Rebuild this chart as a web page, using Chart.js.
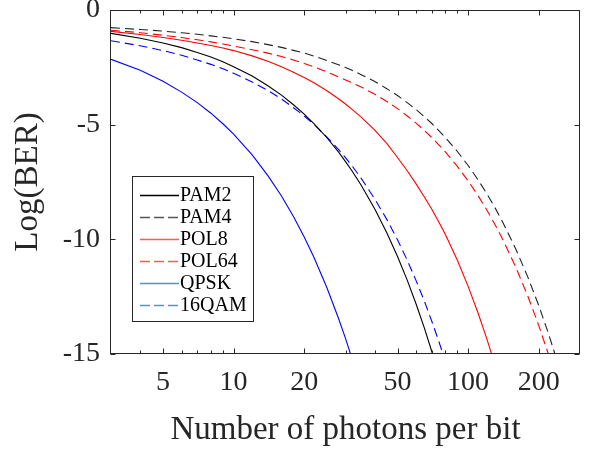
<!DOCTYPE html>
<html>
<head>
<meta charset="utf-8">
<script src="https://cdn.jsdelivr.net/npm/chart.js@4.4.1/dist/chart.umd.min.js"></script>
<style>
  html, body { margin: 0; padding: 0; background: #ffffff; }
  #wrap { width: 591px; height: 455px; }
</style>
</head>
<body>
<div id="wrap"><canvas id="berChart" width="591" height="455"></canvas></div>
<script>
// Photons per bit (shared x grid)
const photons = [3, 4, 5, 6, 7, 8, 9, 10, 12, 14, 16, 18, 20, 22, 25, 28, 30, 32, 35, 40,
    45, 50, 55, 60, 65, 70, 75, 80, 90, 100, 110, 120, 130, 140, 160, 180, 200, 220, 240];

// Log(BER), null once the curve has left the plot
const pam2 = [-1.02, -1.23, -1.44, -1.64, -1.85, -2.05, -2.26, -2.47, -2.88, -3.30, -3.71, -4.13, -4.54, -4.95, -5.57, -6.19, -6.61, -7.02, -7.64, -8.68,
    -9.71, -10.75, -11.78, -12.82, -13.85, -14.89, -15.92, null, null, null, null, null, null, null, null, null, null, null, null];
const pam4 = [-0.77, -0.85, -0.92, -0.99, -1.06, -1.13, -1.19, -1.26, -1.38, -1.51, -1.63, -1.76, -1.88, -2.01, -2.20, -2.39, -2.51, -2.63, -2.82, -3.12,
    -3.43, -3.73, -4.04, -4.34, -4.65, -4.95, -5.26, -5.56, -6.17, -6.78, -7.39, -8.00, -8.61, -9.22, -10.44, -11.66, -12.88, -14.10, -15.32];
const pol8 = [-0.93, -1.07, -1.20, -1.32, -1.44, -1.55, -1.66, -1.77, -2.00, -2.23, -2.47, -2.71, -2.94, -3.17, -3.52, -3.87, -4.10, -4.33, -4.67, -5.24,
    -5.82, -6.43, -7.01, -7.58, -8.14, -8.69, -9.24, -9.79, -10.91, -12.05, -13.18, -14.32, -15.45, null, null, null, null, null, null];
const pol64 = [-0.88, -0.99, -1.10, -1.20, -1.30, -1.39, -1.48, -1.57, -1.73, -1.88, -2.03, -2.18, -2.33, -2.48, -2.70, -2.92, -3.05, -3.17, -3.36, -3.67,
    -3.99, -4.30, -4.62, -4.93, -5.25, -5.56, -5.88, -6.19, -6.82, -7.45, -8.08, -8.71, -9.34, -9.97, -11.23, -12.49, -13.75, -15.01, null];
const qpsk = [-2.15, -2.63, -3.11, -3.58, -4.04, -4.50, -4.96, -5.41, -6.32, -7.22, -8.11, -9.00, -9.90, -10.78, -12.11, -13.44, -14.32, -15.21, null, null,
    null, null, null, null, null, null, null, null, null, null, null, null, null, null, null, null, null, null, null];
const qam16 = [-1.34, -1.56, -1.77, -1.97, -2.18, -2.37, -2.56, -2.76, -3.14, -3.51, -3.88, -4.26, -4.62, -4.99, -5.54, -6.08, -6.44, -6.80, -7.34, -8.24,
    -9.13, -10.02, -10.91, -11.80, -12.68, -13.57, -14.45, -15.33, null, null, null, null, null, null, null, null, null, null, null];

const seriesLabels = ['PAM2', 'PAM4', 'POL8', 'POL64', 'QPSK', '16QAM'];
const seriesValues = [pam2, pam4, pol8, pol64, qpsk, qam16];
const lineColors = ['#000000', '#222222', '#ff0000', '#ff0000', '#0000ff', '#0000ff'];
const legendColors = ['#000000', '#555555', '#ff5a5a', '#ff5a5a', '#4a97d0', '#4a97d0'];
const dashedSeries = [false, true, false, true, false, true];

// Axis ticks
const xTickValues = [4, 5, 6, 7, 8, 9, 10, 20, 30, 40, 50, 60, 70, 80, 90, 100, 200];
const xLabelValues = [5, 10, 20, 50, 100, 200];
const yTickValues = [0, -5, -10, -15];

const axisColor = '#262626';
const serif = "'Liberation Serif', 'Times New Roman', serif";

// Inward tick marks on all four sides plus the box, MATLAB style
const frameTicks = {
    id: 'frameTicks',
    afterDraw(chart) {
        const { ctx, chartArea: a, scales: { x, y } } = chart;
        const left = Math.round(a.left) - 0.5;
        const right = Math.round(a.right) - 0.5;
        const top = Math.round(a.top) + 0.5;
        const bottom = Math.round(a.bottom) - 0.5;
        ctx.save();
        ctx.strokeStyle = axisColor;
        ctx.lineWidth = 1;
        ctx.beginPath();
        xTickValues.forEach(v => {
            const px = Math.round(x.getPixelForValue(v)) + 0.5;
            const len = xLabelValues.includes(v) ? 5 : 3;
            ctx.moveTo(px, bottom);
            ctx.lineTo(px, bottom - len);
            ctx.moveTo(px, top);
            ctx.lineTo(px, top + len);
        });
        yTickValues.forEach(v => {
            const py = Math.round(y.getPixelForValue(v)) + 0.5;
            ctx.moveTo(left, py);
            ctx.lineTo(left + 5, py);
            ctx.moveTo(right, py);
            ctx.lineTo(right - 5, py);
        });
        ctx.stroke();
        ctx.strokeRect(left, top, right - left, bottom - top);
        ctx.restore();
    }
};

// Boxed legend inside the plot
const boxLegend = {
    id: 'boxLegend',
    afterDraw(chart) {
        const { ctx } = chart;
        const boxX = 132.5, boxY = 176.5, boxW = 121, boxH = 145;
        const rowY0 = 195, rowStep = 21.9;
        ctx.save();
        ctx.fillStyle = '#ffffff';
        ctx.fillRect(boxX, boxY, boxW, boxH);
        ctx.strokeStyle = axisColor;
        ctx.lineWidth = 1;
        ctx.strokeRect(boxX, boxY, boxW, boxH);
        ctx.font = '20px ' + serif;
        ctx.textBaseline = 'middle';
        chart.data.datasets.forEach((ds, i) => {
            const ry = Math.round(rowY0 + i * rowStep) + 0.5;
            ctx.beginPath();
            ctx.strokeStyle = legendColors[i];
            ctx.lineWidth = 1.5;
            ctx.setLineDash(dashedSeries[i] ? [10, 4] : []);
            ctx.moveTo(140, ry);
            ctx.lineTo(179, ry);
            ctx.stroke();
            ctx.setLineDash([]);
            ctx.fillStyle = '#000000';
            ctx.fillText(ds.label, 180, ry);
        });
        ctx.restore();
    }
};

const datasets = seriesLabels.map((label, i) => ({
    label: label,
    data: photons
        .map((n, j) => ({ x: n, y: seriesValues[i][j] }))
        .filter(p => p.y !== null),
    borderColor: lineColors[i],
    borderWidth: 1.1,
    borderDash: dashedSeries[i] ? [9, 5] : [],
    pointRadius: 0,
    fill: false,
    tension: 0
}));

new Chart(document.getElementById('berChart'), {
    type: 'line',
    data: { datasets: datasets },
    options: {
        responsive: false,
        animation: false,
        events: [],
        layout: {
            padding: { left: 0, top: 10, right: 11, bottom: 0 },
            autoPadding: false
        },
        plugins: {
            legend: { display: false },
            tooltip: { enabled: false }
        },
        scales: {
            x: {
                type: 'logarithmic',
                min: 3,
                max: 300,
                afterBuildTicks: scale => {
                    scale.ticks = xTickValues.map(v => ({ value: v }));
                },
                afterFit: scale => {
                    scale.height = 101;
                    scale.paddingLeft = 0;
                    scale.paddingRight = 0;
                },
                grid: { display: false, drawTicks: false },
                border: { display: false },
                ticks: {
                    autoSkip: false,
                    maxRotation: 0,
                    padding: 12,
                    color: axisColor,
                    font: { family: serif, size: 28 },
                    callback: v => xLabelValues.includes(v) ? String(v) : ''
                },
                title: {
                    display: true,
                    text: 'Number of photons per bit',
                    color: axisColor,
                    font: { family: serif, size: 33 },
                    padding: { top: 0, bottom: 5 }
                }
            },
            y: {
                type: 'linear',
                min: -15,
                max: 0,
                afterBuildTicks: scale => {
                    scale.ticks = yTickValues.map(v => ({ value: v }));
                },
                afterFit: scale => {
                    scale.width = 111;
                    scale.paddingTop = 0;
                    scale.paddingBottom = 0;
                },
                grid: { display: false, drawTicks: false },
                border: { display: false },
                ticks: {
                    padding: 11,
                    color: axisColor,
                    font: { family: serif, size: 28 },
                    callback: v => String(v)
                },
                title: {
                    display: true,
                    text: 'Log(BER)',
                    color: axisColor,
                    font: { family: serif, size: 33 },
                    padding: { top: 9, bottom: 0 }
                }
            }
        }
    },
    plugins: [frameTicks, boxLegend]
});
</script>
</body>
</html>
